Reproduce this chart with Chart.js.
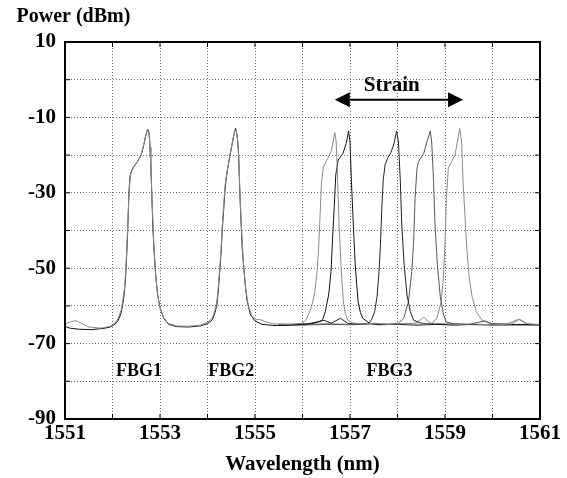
<!DOCTYPE html>
<html>
<head>
<meta charset="utf-8">
<script src="https://cdn.jsdelivr.net/npm/chart.js@4.4.1/dist/chart.umd.min.js"></script>
<style>
  html, body { margin: 0; padding: 0; background: #fff; }
  canvas { display: block; }
</style>
</head>
<body>
<canvas id="chart" width="567" height="478"></canvas>
<script>
// tick labels
const xTicks = [1551, 1553, 1555, 1557, 1559, 1561];
const yTicks = [10, -10, -30, -50, -70, -90];

// FBG1 + FBG2 (unchanged by strain), two overlapping traces
const fbg12Black = [
  [1551.00,-65.4],[1551.10,-65.9],[1551.30,-66.2],[1551.55,-66.3],[1551.80,-66.0],[1551.95,-65.6],
  [1552.05,-64.9],[1552.12,-63.8],[1552.18,-62.0],[1552.22,-59.3],[1552.25,-56.5],[1552.28,-51.5],
  [1552.30,-46.0],[1552.32,-40.3],[1552.335,-34.0],[1552.35,-29.0],[1552.37,-25.6],[1552.40,-24.2],
  [1552.45,-23.0],[1552.52,-21.8],[1552.58,-20.6],[1552.62,-19.3],[1552.66,-17.2],[1552.70,-14.8],
  [1552.74,-13.1],[1552.76,-13.6],[1552.78,-15.5],[1552.80,-21.0],[1552.82,-27.5],[1552.85,-39.5],
  [1552.88,-46.5],[1552.91,-52.0],[1552.95,-57.0],[1553.00,-60.5],[1553.08,-63.3],[1553.18,-64.9],
  [1553.35,-65.5],[1553.60,-65.6],[1553.85,-65.3],[1554.00,-64.7],[1554.10,-63.7],[1554.16,-61.7],
  [1554.20,-59.5],[1554.23,-55.5],[1554.26,-50.5],[1554.29,-45.0],[1554.31,-40.0],[1554.34,-34.5],
  [1554.37,-29.0],[1554.40,-25.5],[1554.44,-22.5],[1554.48,-19.6],[1554.52,-17.0],[1554.56,-14.3],
  [1554.59,-12.9],[1554.62,-14.5],[1554.65,-18.5],[1554.67,-26.0],[1554.69,-33.0],[1554.73,-44.5],
  [1554.78,-52.5],[1554.83,-58.5],[1554.90,-62.2],[1555.00,-64.0],[1555.15,-64.9],[1555.40,-65.2],
  [1555.70,-65.1],[1556.00,-64.9]
];
const fbg12Gray = [
  [1551.00,-64.8],[1551.10,-64.3],[1551.23,-63.9],[1551.35,-64.7],[1551.50,-65.6],[1551.75,-65.9],
  [1551.95,-65.4],[1552.05,-64.6],[1552.12,-63.2],[1552.18,-61.2],[1552.22,-58.3],[1552.25,-55.5],
  [1552.28,-50.5],[1552.30,-45.0],[1552.32,-39.0],[1552.34,-32.5],[1552.36,-27.8],[1552.38,-25.0],
  [1552.42,-23.8],[1552.48,-22.6],[1552.55,-21.2],[1552.60,-20.0],[1552.64,-18.2],[1552.68,-16.0],
  [1552.72,-13.9],[1552.745,-13.2],[1552.77,-14.4],[1552.79,-18.0],[1552.81,-24.0],[1552.84,-34.0],
  [1552.87,-43.5],[1552.90,-50.5],[1552.94,-56.0],[1552.99,-60.0],[1553.07,-63.0],[1553.17,-64.6],
  [1553.35,-65.3],[1553.60,-65.4],[1553.85,-65.1],[1554.00,-64.4],[1554.10,-63.2],[1554.16,-61.0],
  [1554.20,-58.5],[1554.23,-54.5],[1554.26,-49.5],[1554.29,-44.0],[1554.31,-39.0],[1554.34,-33.5],
  [1554.37,-28.0],[1554.41,-24.5],[1554.45,-21.6],[1554.49,-18.8],[1554.53,-16.2],[1554.57,-13.6],
  [1554.60,-13.2],[1554.63,-15.5],[1554.66,-21.0],[1554.68,-29.0],[1554.71,-38.0],[1554.75,-47.5],
  [1554.80,-55.0],[1554.86,-60.0],[1554.94,-62.8],[1555.03,-63.6],[1555.13,-63.7],[1555.22,-64.2],
  [1555.40,-64.8],[1555.70,-64.9],[1556.00,-64.6]
];

// FBG3 under increasing strain, five spectra
const fbg3A = [
  [1555.50,-65.0],[1555.80,-64.9],[1556.00,-64.6],[1556.07,-63.7],[1556.13,-62.2],[1556.18,-60.6],
  [1556.25,-57.1],[1556.30,-51.8],[1556.34,-44.7],[1556.37,-35.9],[1556.40,-27.1],[1556.44,-23.1],
  [1556.53,-20.9],[1556.61,-18.7],[1556.65,-16.0],[1556.68,-14.0],[1556.71,-16.5],[1556.74,-27.1],
  [1556.77,-38.5],[1556.81,-49.1],[1556.86,-58.9],[1556.90,-62.0],[1556.95,-63.7],[1557.05,-64.5],
  [1557.25,-64.8],[1557.50,-64.6],[1557.80,-64.9],[1558.10,-64.7],[1558.50,-64.9],[1558.80,-64.6],
  [1559.20,-64.9],[1559.60,-64.8],[1560.00,-65.0],[1560.40,-64.8],[1560.56,-63.6],[1560.70,-64.7],
  [1561.00,-65.0]
];
const fbg3B = [
  [1555.50,-65.2],[1555.90,-65.0],[1556.10,-64.8],[1556.30,-64.3],[1556.39,-64.0],[1556.43,-63.4],
  [1556.48,-61.5],[1556.55,-57.1],[1556.60,-50.9],[1556.63,-43.0],[1556.67,-33.2],[1556.70,-25.3],
  [1556.75,-21.3],[1556.85,-19.6],[1556.92,-16.9],[1556.97,-13.6],[1557.00,-16.5],[1557.03,-27.1],
  [1557.07,-38.5],[1557.11,-49.1],[1557.17,-58.9],[1557.22,-61.8],[1557.27,-63.3],[1557.41,-64.6],
  [1557.60,-65.0],[1558.00,-64.9],[1558.40,-65.1],[1558.80,-64.9],[1559.20,-65.1],[1559.60,-64.9],
  [1560.00,-65.1],[1560.50,-65.0],[1561.00,-65.1]
];
const fbg3C = [
  [1555.50,-65.1],[1555.90,-64.9],[1556.20,-64.7],[1556.45,-63.8],[1556.60,-64.6],[1556.80,-63.3],
  [1556.95,-64.6],[1557.20,-64.9],[1557.40,-64.6],[1557.46,-63.5],[1557.52,-61.5],[1557.57,-57.5],
  [1557.61,-51.0],[1557.64,-44.0],[1557.67,-34.0],[1557.70,-26.5],[1557.74,-22.5],[1557.80,-20.6],
  [1557.86,-19.4],[1557.93,-16.8],[1557.98,-13.6],[1558.02,-16.5],[1558.06,-27.1],[1558.09,-38.5],
  [1558.14,-49.1],[1558.20,-57.1],[1558.27,-61.5],[1558.34,-63.8],[1558.50,-64.6],[1558.80,-64.9],
  [1559.20,-64.8],[1559.60,-65.0],[1560.00,-64.9],[1560.50,-65.0],[1561.00,-64.9]
];
const fbg3D = [
  [1555.50,-64.9],[1556.00,-65.1],[1556.50,-64.9],[1557.00,-65.0],[1557.50,-64.8],[1557.80,-64.9],
  [1558.02,-64.6],[1558.13,-63.3],[1558.23,-58.9],[1558.30,-50.9],[1558.34,-43.0],[1558.37,-31.5],
  [1558.41,-23.5],[1558.44,-21.8],[1558.55,-19.6],[1558.62,-16.5],[1558.69,-13.6],[1558.72,-16.5],
  [1558.76,-27.1],[1558.79,-38.5],[1558.84,-49.1],[1558.90,-57.5],[1558.97,-62.4],[1559.03,-64.3],
  [1559.20,-64.8],[1559.50,-64.9],[1559.83,-64.0],[1560.00,-64.8],[1560.50,-64.9],[1561.00,-65.0]
];
const fbg3E = [
  [1555.50,-64.8],[1556.00,-64.9],[1556.50,-64.7],[1557.00,-64.9],[1557.50,-64.7],[1558.00,-64.9],
  [1558.40,-64.5],[1558.55,-63.0],[1558.65,-64.2],[1558.72,-64.6],[1558.83,-63.3],[1558.92,-58.9],
  [1558.97,-51.8],[1559.00,-43.0],[1559.03,-31.5],[1559.07,-23.5],[1559.12,-22.2],[1559.21,-20.0],
  [1559.26,-16.5],[1559.31,-12.9],[1559.35,-16.5],[1559.38,-27.1],[1559.42,-36.0],[1559.46,-45.0],
  [1559.51,-52.5],[1559.57,-57.5],[1559.66,-61.5],[1559.78,-63.8],[1559.95,-64.6],[1560.30,-64.8],
  [1560.56,-63.5],[1560.75,-64.8],[1561.00,-65.0]
];

// annotation anchors (wavelength, dBm)
const gratingNames = ['FBG1', 'FBG2', 'FBG3'];
const gratingAt = [1552.56, 1554.5, 1557.83];
const gratingLevel = -78.5;
const strainFrom = 1556.68, strainTo = 1559.38, strainLevel = -5.3;
const strainTextAt = 1557.88, strainTextLevel = -2.9;

const serif = '"Liberation Serif", "Times New Roman", serif';

const traces = [
  { data: fbg12Gray, color: '#8a8a8a' },
  { data: fbg12Black, color: '#111' },
  { data: fbg3A, color: '#8a8a8a' },
  { data: fbg3B, color: '#111' },
  { data: fbg3C, color: '#222' },
  { data: fbg3D, color: '#555' },
  { data: fbg3E, color: '#8a8a8a' }
];

const decor = {
  id: 'decor',
  afterDraw(chart) {
    const { ctx, chartArea: a, scales: { x, y } } = chart;
    ctx.save();
    ctx.strokeStyle = '#000';
    ctx.lineWidth = 1;
    ctx.beginPath();
    x.ticks.forEach(t => {
      const px = x.getPixelForValue(t.value);
      ctx.moveTo(px, a.bottom); ctx.lineTo(px, a.bottom - 5);
      ctx.moveTo(px, a.top); ctx.lineTo(px, a.top + 5);
    });
    y.ticks.forEach(t => {
      const py = y.getPixelForValue(t.value);
      ctx.moveTo(a.left, py); ctx.lineTo(a.left + 5, py);
      ctx.moveTo(a.right, py); ctx.lineTo(a.right - 5, py);
    });
    ctx.stroke();

    ctx.lineWidth = 2;
    ctx.strokeRect(a.left, a.top, a.right - a.left, a.bottom - a.top);

    ctx.fillStyle = '#000';
    ctx.textBaseline = 'alphabetic';
    ctx.font = 'bold 20px ' + serif;
    ctx.textAlign = 'left';
    ctx.fillText('Power (dBm)', 16.5, 21.5);
    ctx.font = 'bold 21px ' + serif;
    ctx.textAlign = 'center';
    ctx.fillText('Wavelength (nm)', (a.left + a.right) / 2, 470);

    ctx.font = 'bold 18px ' + serif;
    gratingNames.forEach((name, i) => {
      ctx.fillText(name, x.getPixelForValue(gratingAt[i]), y.getPixelForValue(gratingLevel));
    });

    ctx.font = 'bold 21px ' + serif;
    ctx.fillText('Strain', x.getPixelForValue(strainTextAt), y.getPixelForValue(strainTextLevel));

    const x1 = x.getPixelForValue(strainFrom), x2 = x.getPixelForValue(strainTo);
    const ya = y.getPixelForValue(strainLevel);
    const head = 15, half = 7.5;
    ctx.lineWidth = 2;
    ctx.beginPath();
    ctx.moveTo(x1 + head, ya); ctx.lineTo(x2 - head, ya);
    ctx.stroke();
    ctx.beginPath();
    ctx.moveTo(x1, ya); ctx.lineTo(x1 + head, ya - half); ctx.lineTo(x1 + head, ya + half); ctx.closePath();
    ctx.moveTo(x2, ya); ctx.lineTo(x2 - head, ya - half); ctx.lineTo(x2 - head, ya + half); ctx.closePath();
    ctx.fill();
    ctx.restore();
  }
};

const tickFont = { family: serif, size: 21, weight: 'bold' };

new Chart(document.getElementById('chart').getContext('2d'), {
  type: 'line',
  data: {
    datasets: traces.map(t => ({
      data: t.data.map(p => ({ x: p[0], y: p[1] })),
      borderColor: t.color,
      borderWidth: 1,
      pointRadius: 0,
      tension: 0,
      fill: false
    }))
  },
  options: {
    responsive: false,
    animation: false,
    layout: { padding: { top: 42, right: 27, left: 0, bottom: 0 } },
    plugins: { legend: { display: false }, tooltip: { enabled: false } },
    scales: {
      x: {
        type: 'linear', min: 1551, max: 1561,
        ticks: {
          stepSize: 1, autoSkip: false, maxRotation: 0, padding: 2,
          color: '#000', font: tickFont,
          callback: v => xTicks.includes(v) ? String(v) : ''
        },
        grid: { color: '#6a6a6a', lineWidth: 1, drawTicks: false },
        border: { display: false, dash: [1, 2] },
        afterFit: s => { s.height = 59; }
      },
      y: {
        type: 'linear', min: -90, max: 10,
        ticks: {
          stepSize: 10, autoSkip: false, padding: 9,
          color: '#000', font: tickFont,
          callback: v => yTicks.includes(v) ? String(v) : ''
        },
        grid: { color: '#6a6a6a', lineWidth: 1, drawTicks: false },
        border: { display: false, dash: [1, 2] },
        afterFit: s => { s.width = 65; }
      }
    }
  },
  plugins: [decor]
});
</script>
</body>
</html>
